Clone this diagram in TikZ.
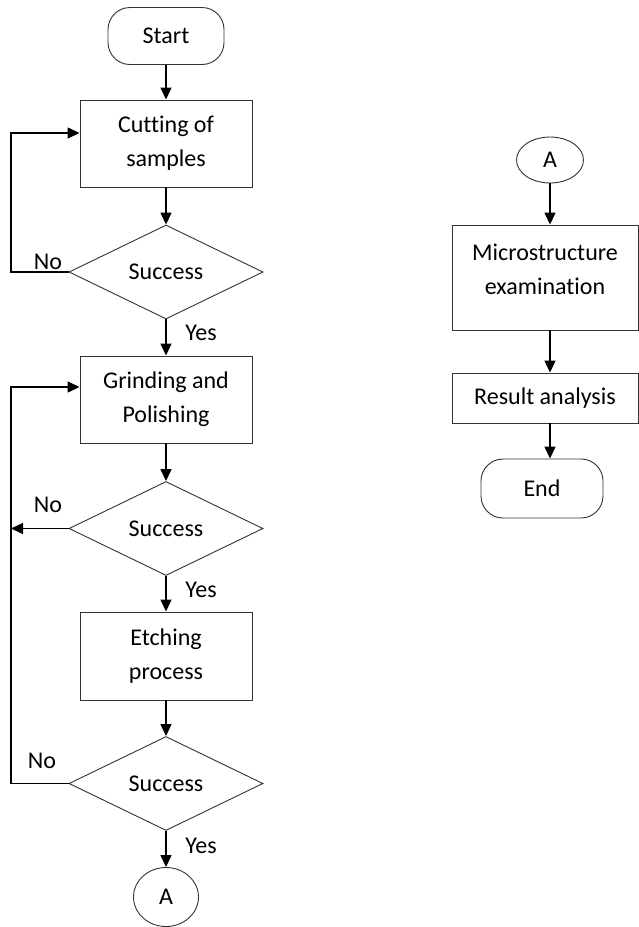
\documentclass[tikz,border=0pt]{standalone}
\usepackage{fontspec}
\setmainfont{Carlito}[Ligatures={NoCommon}]
\usetikzlibrary{shapes.geometric,arrows.meta}
\begin{document}
\begin{tikzpicture}[x=1pt,y=-1pt,
  base/.style={draw=black!80, line width=0.9pt, font=\fontsize{24}{34}\selectfont, align=center, inner sep=0pt, text=black},
  proc/.style={base, rectangle, minimum width=172pt, minimum height=87pt},
  term/.style={base, rectangle, rounded corners=22pt},
  dec/.style={base, diamond, aspect=2, minimum width=194pt, minimum height=94pt},
  conn/.style={base, ellipse},
  arr/.style={line width=1.4pt, -{Triangle[length=12pt,width=11pt]}},
  lbl/.style={font=\fontsize{24}{28}\selectfont, inner sep=0pt}]
\useasboundingbox (0,0) rectangle (639,927);
\fill[white] (0,0) rectangle (639,927);
% left column
\node[term, minimum width=116pt, minimum height=57pt] (start) at (166,36) {Start};
\node[proc] (cut) at (166,143.5) {Cutting of\\samples};
\node[dec] (d1) at (166,272) {Success};
\node[proc] (grind) at (166,399.5) {Grinding and\\Polishing};
\node[dec] (d2) at (166,528.5) {Success};
\node[proc, minimum height=88pt] (etch) at (166,656) {Etching\\process};
\node[dec] (d3) at (166,783.5) {Success};
\node[conn, minimum width=65pt, minimum height=59pt] (a1) at (166,897) {A};
% right column
\node[conn, minimum width=67pt, minimum height=46pt] (a2) at (550,160) {A};
\node[base, rectangle, minimum width=186pt, minimum height=105pt] (micro) at (545,277.5) {Microstructure\\examination\\[-17pt]\mbox{}};
\node[base, rectangle, minimum width=186pt, minimum height=50pt] (res) at (545,398) {Result analysis};
\node[term, minimum width=122pt, minimum height=59pt] (end) at (542,488.5) {End};
% loop points
\coordinate (l1) at (11,133);
\coordinate (l2) at (11,387);
% main arrows
\draw[arr] (start) -- (cut);
\draw[arr] (cut) -- (d1);
\draw[arr] (d1) -- (grind);
\draw[arr] (grind) -- (d2);
\draw[arr] (d2) -- (etch);
\draw[arr] (etch) -- (d3);
\draw[arr] (d3) -- (a1);
% loops
\draw[arr] (d1.west) -| (l1) -- (l1 -| cut.west);
\draw[arr] (d3.west) -| (l2) -- (l2 -| grind.west);
\draw[arr] (d2.west) -- (d2.west -| l2);
% right arrows
\draw[arr] (a2.south) -- (a2.south |- micro.north);
\draw[arr] (micro.south -| a2) -- (res.north -| a2);
\draw[arr] (res.south -| a2) -- (end.north -| a2);
% labels
\node[lbl] (no1) at (48,262) {No};
\node[lbl] (no2) at (48,505) {No};
\node[lbl] (no3) at (42,761) {No};
\node[lbl] (yes1) at (201,333) {Yes};
\node[lbl] (yes2) at (201,590) {Yes};
\node[lbl] (yes3) at (201,846) {Yes};
\end{tikzpicture}
\end{document}
